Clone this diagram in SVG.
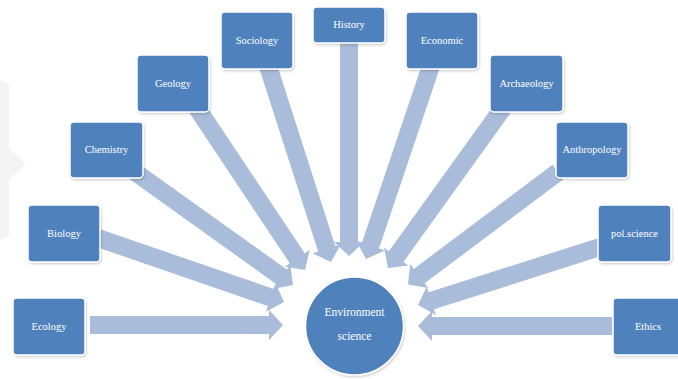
<svg xmlns="http://www.w3.org/2000/svg" width="678" height="379" viewBox="0 0 678 379">
<defs>
<style>
.bg{fill:#ffffff}
.wm{fill:#f4f4f4}
.arr{fill:#a9bcd9}
.box{fill:#4f81bd;stroke:#ffffff;stroke-width:1.5}
.lbl{font-family:"Liberation Serif","DejaVu Serif",serif;font-size:10.5px;fill:#ffffff;text-anchor:middle}
.clbl{font-family:"Liberation Serif","DejaVu Serif",serif;font-size:11.5px;fill:#ffffff;text-anchor:middle}
</style>
<filter id="sh" x="-10%" y="-10%" width="130%" height="130%">
<feDropShadow dx="1" dy="1.5" stdDeviation="1" flood-color="#000" flood-opacity="0.18"/>
</filter>
</defs>
<rect class="bg" x="0" y="0" width="678" height="379"/>
<polygon class="wm" points="0,80 9,84 9,148 26,164 9,180 9,236 0,240"/>
<g id="connectors">
<polygon class="arr" transform="translate(90,325) rotate(0)" points="0,-9 179,-9 179,-15 193,0 179,15 179,9 0,9"/>
<polygon class="arr" transform="translate(98,238) rotate(18.99)" points="0,-9 182.7,-9 182.7,-15 196.7,0 182.7,15 182.7,9 0,9"/>
<polygon class="arr" transform="translate(135,172) rotate(35.57)" points="0,-9 180.25,-9 180.25,-15 194.25,0 180.25,15 180.25,9 0,9"/>
<polygon class="arr" transform="translate(197,108) rotate(56.31)" points="0,-9 180.7,-9 180.7,-15 194.7,0 180.7,15 180.7,9 0,9"/>
<polygon class="arr" transform="translate(268,66) rotate(72.18)" points="0,-9 191.9,-9 191.9,-15 205.9,0 191.9,15 191.9,9 0,9"/>
<polygon class="arr" transform="translate(349,40) rotate(90)" points="0,-9 202,-9 202,-15 216,0 202,15 202,9 0,9"/>
<polygon class="arr" transform="translate(431,66) rotate(108.61)" points="0,-9 189.65,-9 189.65,-15 203.65,0 189.65,15 189.65,9 0,9"/>
<polygon class="arr" transform="translate(503,108) rotate(125.71)" points="0,-9 183.04,-9 183.04,-15 197.04,0 183.04,15 183.04,9 0,9"/>
<polygon class="arr" transform="translate(558,172) rotate(143.13)" points="0,-9 173.5,-9 173.5,-15 187.5,0 173.5,15 173.5,9 0,9"/>
<polygon class="arr" transform="translate(600,247) rotate(162.32)" points="0,-9 177,-9 177,-15 191,0 177,15 177,9 0,9"/>
<polygon class="arr" transform="translate(612,326) rotate(180)" points="0,-9 180,-9 180,-15 194,0 180,15 180,9 0,9"/>
</g>
<g id="node-ecology"><rect class="box" filter="url(#sh)" x="13" y="298" width="72" height="57" rx="4"/><text class="lbl" x="49" y="330">Ecology</text></g>
<g id="node-biology"><rect class="box" filter="url(#sh)" x="28" y="205" width="72" height="57" rx="4"/><text class="lbl" x="64" y="237">Biology</text></g>
<g id="node-chemistry"><rect class="box" filter="url(#sh)" x="70" y="122" width="73" height="56" rx="4"/><text class="lbl" x="106.5" y="153">Chemistry</text></g>
<g id="node-geology"><rect class="box" filter="url(#sh)" x="137" y="55" width="72" height="57" rx="4"/><text class="lbl" x="173" y="87">Geology</text></g>
<g id="node-sociology"><rect class="box" filter="url(#sh)" x="221" y="12" width="72" height="57" rx="4"/><text class="lbl" x="257" y="44">Sociology</text></g>
<g id="node-history"><rect class="box" filter="url(#sh)" x="313" y="7" width="72" height="36" rx="4"/><text class="lbl" x="349" y="28">History</text></g>
<g id="node-economic"><rect class="box" filter="url(#sh)" x="406" y="12" width="72" height="57" rx="4"/><text class="lbl" x="442" y="44">Economic</text></g>
<g id="node-archaeology"><rect class="box" filter="url(#sh)" x="490" y="55" width="73" height="57" rx="4"/><text class="lbl" x="526.5" y="87">Archaeology</text></g>
<g id="node-anthropology"><rect class="box" filter="url(#sh)" x="556" y="122" width="72" height="56" rx="4"/><text class="lbl" x="592" y="153">Anthropology</text></g>
<g id="node-polscience"><rect class="box" filter="url(#sh)" x="598" y="205" width="73" height="57" rx="4"/><text class="lbl" x="634.5" y="237">pol.science</text></g>
<g id="node-ethics"><rect class="box" filter="url(#sh)" x="613" y="298" width="72" height="57" rx="4"/><text class="lbl" x="648" y="330">Ethics</text></g>
<g id="node-environment"><circle cx="354.5" cy="326" r="49" fill="#4f81bd" stroke="#ffffff" stroke-width="1.5" filter="url(#sh)"/><text class="clbl" x="354.5" y="316">Environment</text><text class="clbl" x="354.5" y="340">science</text></g>
</svg>
